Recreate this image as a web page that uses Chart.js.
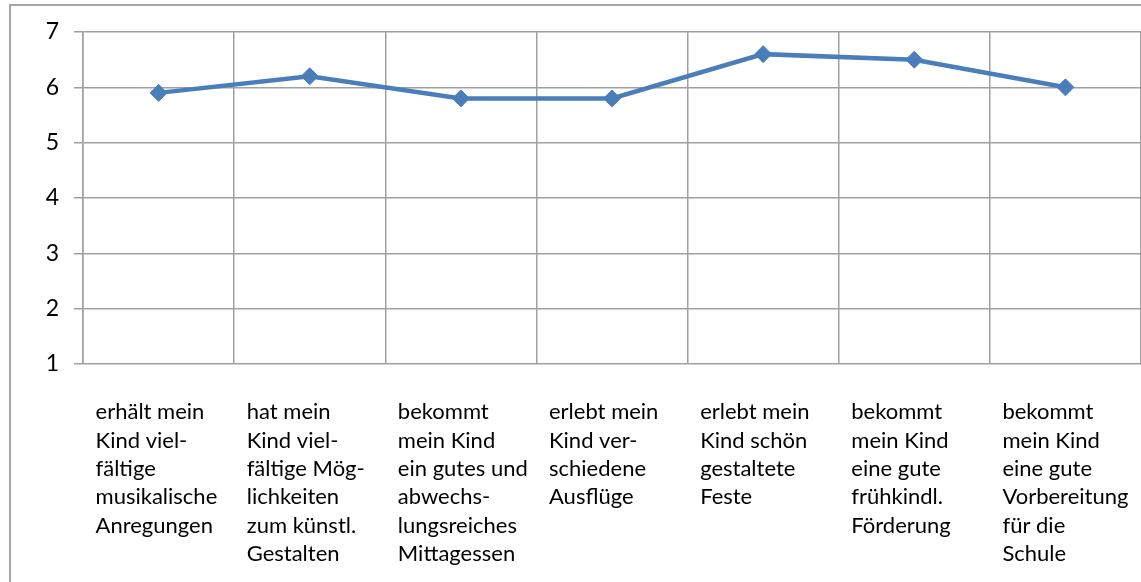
<!DOCTYPE html>
<html>
<head>
<meta charset="utf-8">
<script src="https://cdn.jsdelivr.net/npm/chart.js@4.4.1/dist/chart.umd.min.js"></script>
<style>
  html, body { margin: 0; padding: 0; background: #fff; }
  #wrap { position: relative; width: 1141px; height: 582px; overflow: hidden; }
  #frame { position: absolute; left: 9px; top: 4px; width: 1200px; height: 700px;
           border-left: 2px solid #a6a6a6; border-top: 2px solid #a6a6a6; pointer-events: none; }
  canvas { position: absolute; left: 0; top: 0; }
</style>
</head>
<body>
<div id="wrap">
  <canvas id="c" width="1141" height="582"></canvas>
  <div id="frame"></div>
</div>
<script>
const categories = [
  ["erhält mein", "Kind viel-", "fältige", "musikalische", "Anregungen"],
  ["hat mein", "Kind viel-", "fältige Mög-", "lichkeiten", "zum künstl.", "Gestalten"],
  ["bekommt", "mein Kind", "ein gutes und", "abwechs-", "lungsreiches", "Mittagessen"],
  ["erlebt mein", "Kind ver-", "schiedene", "Ausflüge"],
  ["erlebt mein", "Kind schön", "gestaltete", "Feste"],
  ["bekommt", "mein Kind", "eine gute", "frühkindl.", "Förderung"],
  ["bekommt", "mein Kind", "eine gute", "Vorbereitung", "für die", "Schule"]
];
const values = [5.9, 6.2, 5.8, 5.8, 6.6, 6.5, 6.0];
const yMin = 1;
const yMax = 7;
const yStep = 1;

const FONT = "Lato, 'Open Sans', sans-serif";

new Chart(document.getElementById('c'), {
  type: 'line',
  data: {
    labels: categories,
    datasets: [{
      data: values,
      borderColor: '#4a7ebb',
      backgroundColor: '#4a7ebb',
      borderWidth: 4.5,
      pointStyle: 'rectRot',
      pointRadius: 8.5,
      pointHoverRadius: 8.5,
      pointBorderWidth: 1,
      pointBorderColor: '#4a7ebb',
      pointBackgroundColor: '#4a7ebb',
      tension: 0,
      fill: false
    }]
  },
  options: {
    responsive: false,
    animation: false,
    devicePixelRatio: 1,
    layout: { autoPadding: false, padding: { left: 0, right: 0, top: 32, bottom: 0 } },
    plugins: { legend: { display: false }, tooltip: { enabled: false } },
    scales: {
      x: {
        type: 'category',
        offset: true,
        grid: { offset: true, color: '#a0a0a0', lineWidth: 1.5, drawTicks: false },
        border: { display: false },
        ticks: {
          autoSkip: false, maxRotation: 0, minRotation: 0,
          align: 'start', labelOffset: -63, padding: 34,
          color: '#000', font: { family: FONT, size: 22, lineHeight: 1.29 }
        },
        afterFit(scale) { scale.height = 218; scale.paddingLeft = 0; scale.paddingRight = 0; }
      },
      y: {
        min: yMin, max: yMax,
        grid: { color: '#a0a0a0', lineWidth: 1.5, drawTicks: true, tickLength: 9 },
        border: { display: true, color: '#a0a0a0', width: 1.5 },
        ticks: {
          stepSize: yStep, padding: 15, color: '#000',
          font: { family: FONT, size: 23 }
        },
        afterFit(scale) { scale.width = 83; }
      }
    }
  }
});
</script>
</body>
</html>
